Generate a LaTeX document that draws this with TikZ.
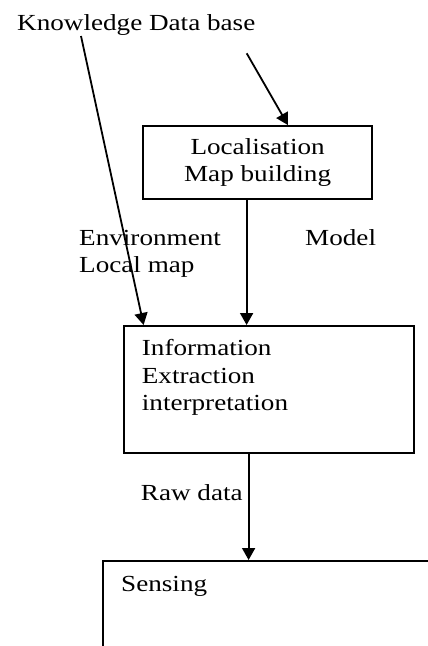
\documentclass[tikz,border=0pt]{standalone}
\usepackage{fontspec}
\setmainfont{Liberation Serif}[FakeStretch=1.18]
\usepackage{tikz}
\usetikzlibrary{arrows.meta, positioning}

\begin{document}
\begin{tikzpicture}[
    x=1pt, y=-1pt,
    txt/.style={font=\fontsize{23pt}{27.6pt}\selectfont, inner sep=0pt},
    blockbox/.style={draw, line width=1.8pt, txt},
    arr/.style={-{Triangle[length=12pt, width=13pt]}, line width=1.8pt}
  ]
    \useasboundingbox (0,0) rectangle (428,646);
    \clip (0,0) rectangle (428,646);

    % Knowledge data base
    \node[txt, anchor=base west] (kdb) at (17,30) {Knowledge Data base};
    \coordinate (kdbfoot) at (81,36);
    \coordinate (kdbin) at (246.7,53.3);

    % Localisation
    \node[blockbox, minimum width=229pt, minimum height=73pt, align=center]
      (loc) at (257.6,162.5) {Localisation\\Map building};

    % Information
    \node[blockbox, minimum width=290pt, minimum height=127pt,
          anchor=north west] (info) at (123,325) {};
    \node[txt, anchor=north west, align=left] (infotext) at (141.7,339.3)
      {Information\\Extraction\\interpretation};

    % Sensing
    \node[blockbox, minimum width=400pt, minimum height=200pt,
          anchor=north west] (sense) at (102.3,560) {};
    \node[txt, anchor=base west] (sensetext) at (121,591.7) {Sensing};

    % Labels
    \node[txt, anchor=north west, align=left] (env) at (79,229.8)
      {Environment\\Local map};
    \node[txt, anchor=base west] (model) at (305,245) {Model};
    \node[txt, anchor=base west] (raw) at (140.7,500) {Raw data};

    % Arrows
    \draw[arr] (kdbin) -- ([xshift=30.4pt]loc.north);
    \draw[arr] (kdbfoot) -- ([xshift=20.6pt]info.north west);
    \draw[arr] ([xshift=-11pt]loc.south) -- ([xshift=-11pt]loc.south |- info.north);
    \draw[arr] ([xshift=-20.3pt]info.south) -- ([xshift=-20.3pt]info.south |- sense.north);
  \end{tikzpicture}
\end{document}
